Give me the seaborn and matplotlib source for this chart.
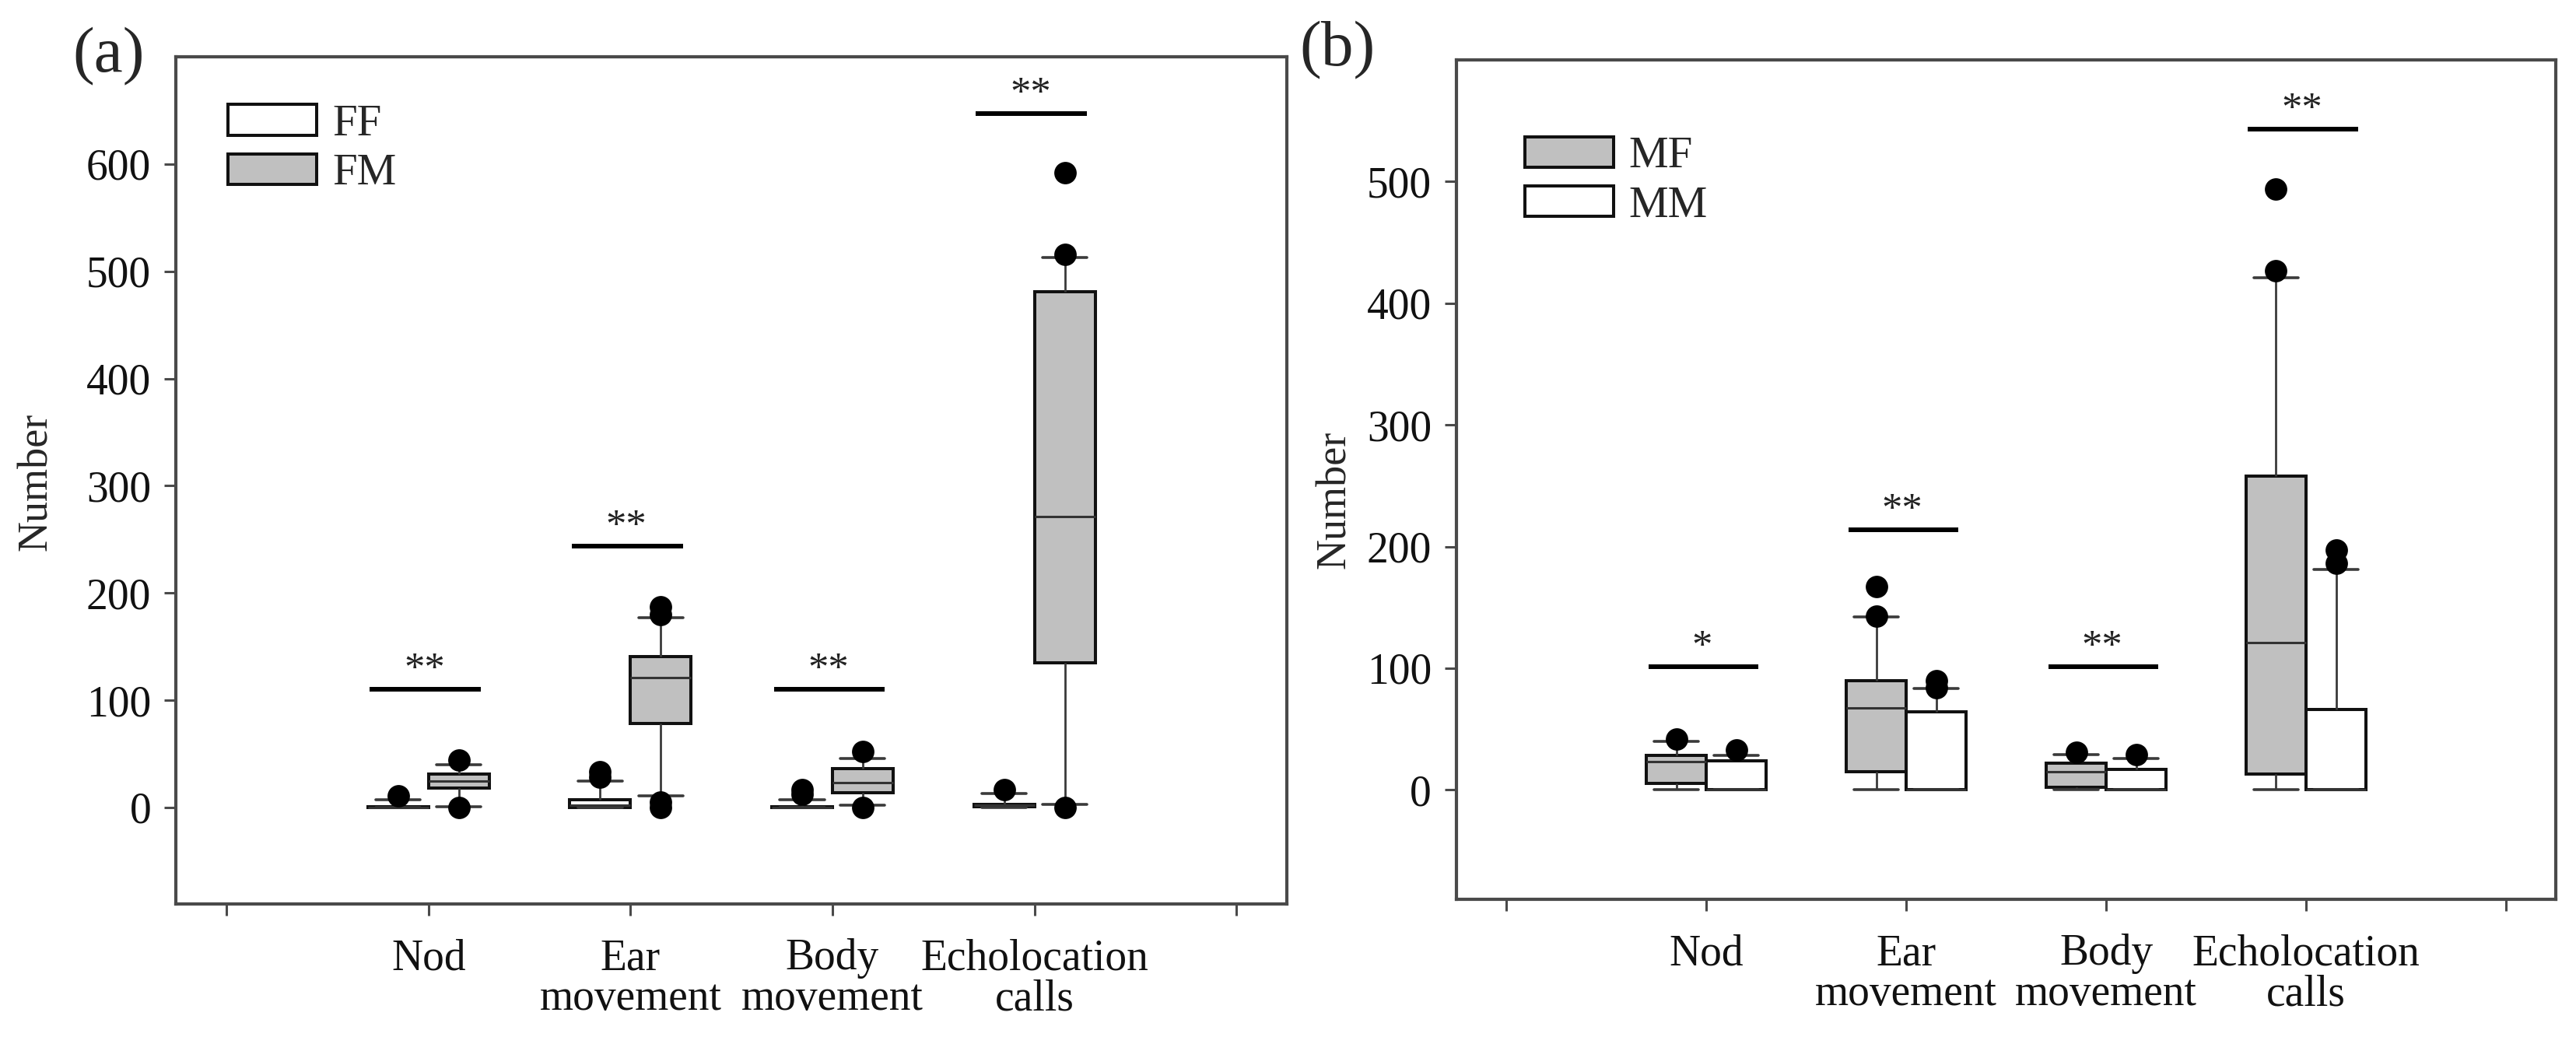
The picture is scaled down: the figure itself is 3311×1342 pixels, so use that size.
import matplotlib
matplotlib.use("Agg")
import matplotlib.pyplot as plt
from matplotlib.patches import Patch
import seaborn as sns
import pandas as pd

BEHAVIORS = ["Nod", "Ear movement", "Body movement", "Echolocation calls"]
TICK_LABELS = ["", "Nod", "Ear\nmovement", "Body\nmovement", "Echolocation\ncalls", ""]

# five-number summaries: whisker low, Q1, median, Q3, whisker high
FF_BOX = [[0, 0, 0, 0.5, 7], [0, 0, 2, 7, 25], [0, 0, 0, 1, 7], [0, 1, 2, 3, 13]]
FM_BOX = [[1, 18, 25, 31, 40], [11, 78, 121, 141, 177], [2, 14, 23, 36, 46], [3, 135, 271, 481, 513]]
MF_BOX = [[0, 5, 23, 28, 40], [0, 15, 67, 90, 142], [0, 2, 15, 22, 29], [0, 13, 121, 258, 421]]
MM_BOX = [[0, 0, 0, 24, 28], [0, 0, 0, 64, 83], [0, 0, 0, 17, 26], [0, 0, 0, 66, 181]]

# outlying points
FF_OUT = [[11], [28, 33], [12, 17], [17]]
FM_OUT = [[0, 44], [0, 5, 180, 187], [0, 52], [0, 516, 592]]
MF_OUT = [[42], [143, 167], [31], [427, 494]]
MM_OUT = [[33], [84, 90], [29], [186, 197]]

# significance bars
SIG_A_Y = [110, 244, 110, 647]
SIG_A_TXT = ["**", "**", "**", "**"]
SIG_B_Y = [101, 214, 101, 543]
SIG_B_TXT = ["*", "**", "**", "**"]

GRAY = "#c0c0c0"
WHITE = "#ffffff"
SPINE = "#4a4a4a"

sns.set_theme(style="white")
plt.rcParams["font.family"] = ["Liberation Serif", "DejaVu Serif"]


def long_frame(groups, boxes):
    rows = []
    for g, stats in zip(groups, boxes):
        for b, vals in zip(BEHAVIORS, stats):
            for v in vals:
                rows.append({"behavior": b, "group": g, "value": v})
    return pd.DataFrame(rows)


def draw_panel(ax, groups, boxes, outs, colors, sig_y, sig_txt, ylim, yticks, leg_anchor):
    df = long_frame(groups, boxes)
    palette = dict(zip(groups, colors))
    sns.boxplot(data=df, x="behavior", y="value", hue="group", order=BEHAVIORS,
                hue_order=groups, palette=palette, saturation=1, width=0.6, gap=0,
                whis=(0, 100), linecolor="#111111", linewidth=2.9, fliersize=0,
                legend=False, ax=ax, capwidths=0.22,
                whiskerprops=dict(color="#3a3a3a", linewidth=2.0),
                capprops=dict(color="#3a3a3a", linewidth=2.6),
                medianprops=dict(color="#333333", linewidth=2.2))

    # outliers, placed at the dodged box positions
    offsets = {groups[0]: -0.15, groups[1]: 0.15}
    xs, ys = [], []
    for g, pts in zip(groups, outs):
        for i, vals in enumerate(pts):
            for v in vals:
                xs.append(i + offsets[g])
                ys.append(v)
    ax.scatter(xs, ys, s=430, color="black", zorder=5, linewidths=0)

    for i, (y, txt) in enumerate(zip(sig_y, sig_txt)):
        ax.hlines(y, i - 0.29, i + 0.26, color="black", linewidth=4.3, zorder=4)
        ax.annotate(txt, (i - 0.02, y), xytext=(0, 0), textcoords="offset points",
                    ha="center", va="bottom", fontsize=38, color="#222222")

    ax.set_xlim(-1.25, 4.25)
    ax.set_ylim(*ylim)
    ax.set_xticks(range(-1, 5))
    ax.set_xticklabels(TICK_LABELS, linespacing=1.0)
    ax.set_yticks(yticks)
    ax.set_xlabel("")
    ax.set_ylabel("Number", fontsize=39)
    ax.tick_params(axis="both", direction="out", length=11, width=2.2, color=SPINE,
                   labelsize=40, labelcolor="#111111")
    ax.tick_params(axis="x", pad=21)
    ax.tick_params(axis="y", pad=12)
    ax.tick_params(left=True, bottom=True)
    for s in ax.spines.values():
        s.set_linewidth(3)
        s.set_color(SPINE)

    handles = [Patch(facecolor=c, edgecolor="#111111", linewidth=2.9) for c in colors]
    ax.legend(handles, groups, loc="upper left", bbox_to_anchor=leg_anchor,
              frameon=False, fontsize=41, handlelength=2.0, handleheight=0.68,
              labelspacing=0.2, handletextpad=0.35, borderpad=0, borderaxespad=0)


fig = plt.figure(figsize=(33.11, 13.42), dpi=100)
ax_a = fig.add_axes([0.0683, 0.1341, 0.4313, 0.8115])
ax_b = fig.add_axes([0.5654, 0.1386, 0.4268, 0.8040])

draw_panel(ax_a, ["FF", "FM"], [FF_BOX, FM_BOX], [FF_OUT, FM_OUT], [WHITE, GRAY],
           SIG_A_Y, SIG_A_TXT, (-90, 700), range(0, 700, 100), (0.047, 0.944))
draw_panel(ax_b, ["MF", "MM"], [MF_BOX, MM_BOX], [MF_OUT, MM_OUT], [GRAY, WHITE],
           SIG_B_Y, SIG_B_TXT, (-90, 600), range(0, 600, 100), (0.062, 0.909))

ax_a.yaxis.set_label_coords(-0.108, 0.498)
ax_b.yaxis.set_label_coords(-0.093, 0.476)

fig.text(140 / 3311, 1 - 73 / 1342, "(a)", ha="center", va="center", fontsize=60)
fig.text(1719 / 3311, 1 - 65 / 1342, "(b)", ha="center", va="center", fontsize=60)

fig.savefig("out.png", dpi=100)
plt.close(fig)
